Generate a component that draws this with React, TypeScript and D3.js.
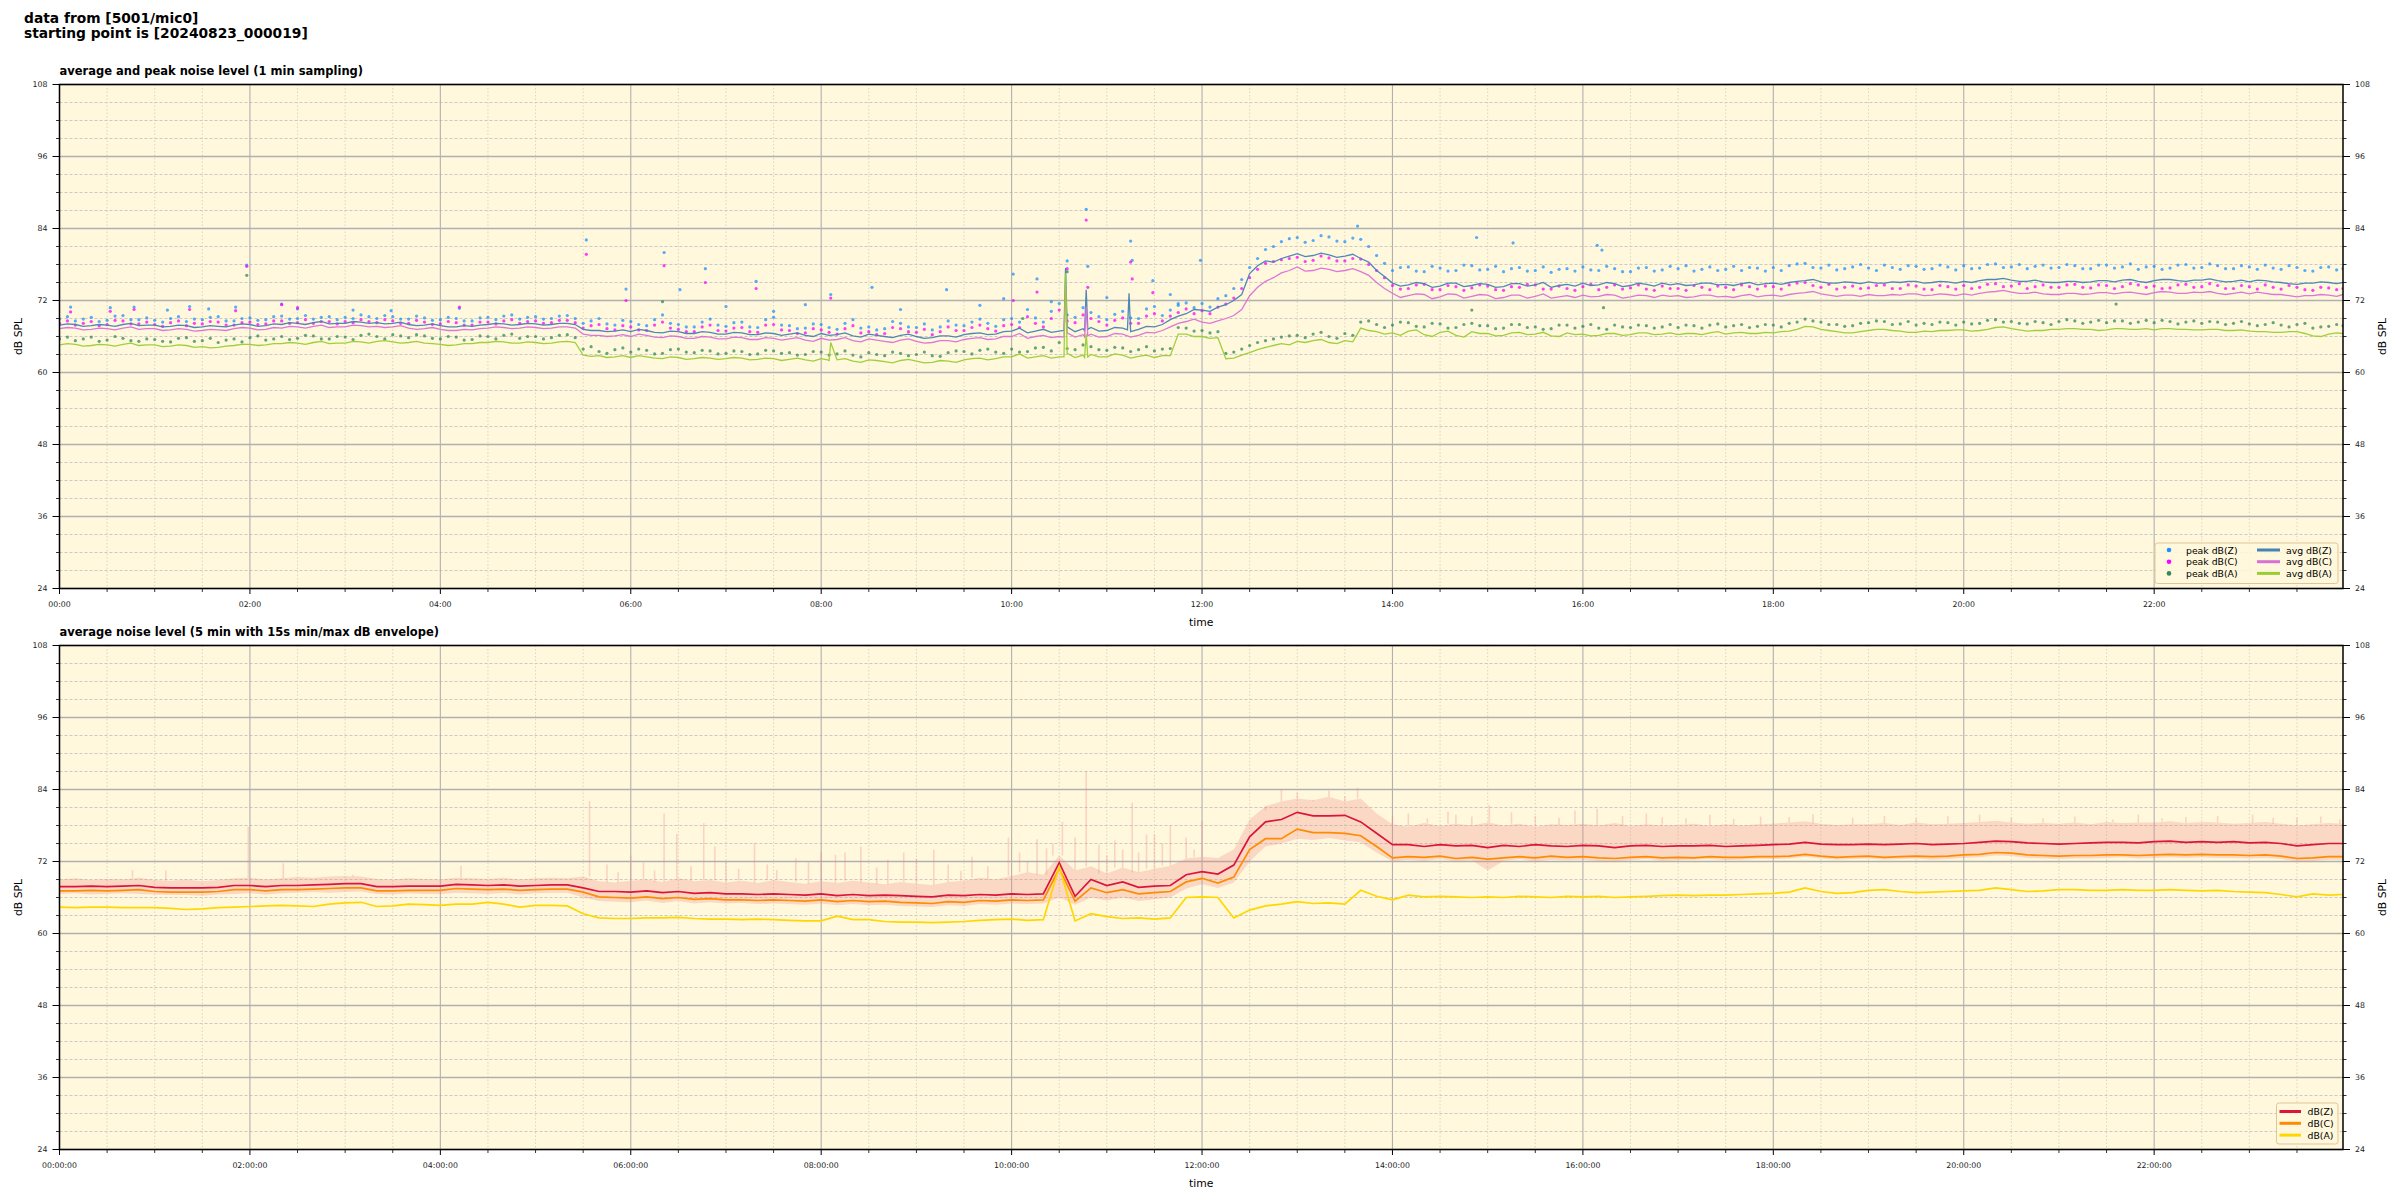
import React from "react";
import * as d3 from "d3";

const FONT = "'DejaVu Sans', 'Liberation Sans', sans-serif";

// ---------------- texts ----------------
const FIG_TITLE_LINES = ["data from [5001/mic0]", "starting point is [20240823_000019]"];
const TOP_TITLE = "average and peak noise level (1 min sampling)";
const BOT_TITLE = "average noise level (5 min with 15s min/max dB envelope)";
const X_LABEL = "time";
const Y_LABEL = "dB SPL";
const TOP_LEGEND_PEAK = ["peak dB(Z)", "peak dB(C)", "peak dB(A)"];
const TOP_LEGEND_AVG = ["avg dB(Z)", "avg dB(C)", "avg dB(A)"];
const BOT_LEGEND = ["dB(Z)", "dB(C)", "dB(A)"];

// ---------------- axes ----------------
const T_DOMAIN = [0, 1439]; // minutes since 00:00
const Y_DOMAIN = [24, 108];
const X_MAJOR = d3.range(0, 1440, 120);
const X_MINOR = d3.range(30, 1440, 30).filter((m) => m % 120 !== 0);
const Y_MAJOR = d3.range(24, 109, 12);
const Y_MINOR = d3.range(27, 108, 3).filter((v) => (v - 24) % 12 !== 0);

// sample times (minutes)
const SAMPLE_5 = [...d3.range(0, 1440, 5), 1439];
const SAMPLE_10 = [...d3.range(0, 1440, 10), 1439];

// ---------------- top panel: averages (read every 5 min) ----------------
const AVG_Z = [
  67.9, 68.1, 68.0, 67.7, 67.8, 68.0, 67.9, 67.7, 68.0, 68.2, 67.8, 67.9,
  67.9, 67.6, 67.7, 67.9, 67.8, 67.5, 67.6, 67.8, 67.7, 67.6, 67.9, 68.1,
  68.0, 67.7, 67.8, 68.1, 68.0, 68.3, 68.2, 68.0, 68.3, 68.5, 68.1, 68.2,
  68.2, 68.5, 68.4, 68.2, 68.3, 68.1, 68.2, 68.4, 68.0, 67.8, 67.9, 68.1,
  67.8, 67.6, 67.6, 67.8, 67.7, 67.9, 68.0, 68.2, 68.1, 67.9, 68.0, 68.2,
  68.1, 67.9, 68.0, 68.2, 68.2, 68.0, 67.2, 67.0, 67.0, 66.8, 66.9, 67.1,
  66.8, 67.2, 67.0, 66.7, 66.6, 66.9, 66.8, 66.5, 66.5, 66.8, 66.7, 66.4,
  66.4, 66.7, 66.6, 66.3, 66.3, 66.6, 66.5, 66.2, 66.4, 66.6, 66.2, 66.0,
  66.5, 66.2, 66.3, 66.6, 66.1, 65.9, 66.4, 66.2, 66.0, 65.8, 66.2, 66.4,
  66.0, 65.7, 65.8, 66.1, 66.1, 65.9, 66.3, 66.5, 66.6, 66.3, 66.4, 66.8,
  66.9, 67.4, 66.6, 66.9, 67.2, 66.7, 66.9, 67.6, 66.8, 67.3, 67.5, 66.9,
  67.0, 67.5, 67.4, 66.8, 67.2, 67.7, 67.6, 68.0, 68.8, 69.4, 69.8, 70.5,
  70.4, 70.2, 70.9, 71.3, 72.0, 73.0, 76.5, 77.8, 78.6, 78.4, 79.0, 79.4,
  79.8, 79.3, 79.5, 79.9, 79.6, 79.2, 79.4, 79.7, 79.0, 78.4, 77.0, 76.0,
  74.9, 74.4, 74.6, 75.0, 74.8, 74.2, 74.4, 74.9, 74.9, 74.3, 74.5, 74.8,
  74.7, 74.2, 74.3, 74.8, 74.8, 74.4, 74.6, 75.0, 74.2, 74.5, 74.7, 74.4,
  74.9, 74.5, 74.6, 75.0, 74.8, 74.3, 74.5, 74.9, 74.7, 74.4, 74.9, 74.6,
  74.8, 74.5, 74.6, 74.9, 74.9, 74.6, 74.7, 74.5, 74.8, 75.0, 74.6, 74.8,
  74.9, 74.7, 75.0, 75.2, 75.3, 75.5, 75.1, 74.9, 74.9, 75.1, 75.0, 74.8,
  75.1, 74.9, 74.9, 75.1, 75.0, 75.2, 75.2, 74.9, 75.0, 75.2, 75.1, 74.9,
  75.2, 75.0, 75.3, 75.5, 75.5, 75.7, 75.4, 75.2, 75.2, 75.4, 75.1, 75.0,
  75.0, 75.2, 75.2, 75.0, 75.1, 75.3, 75.3, 75.1, 75.4, 75.5, 75.2, 75.0,
  75.3, 75.5, 75.5, 75.3, 75.2, 75.4, 75.4, 75.6, 75.3, 75.1, 75.2, 75.4,
  75.1, 75.4, 75.3, 75.1, 75.0, 74.8, 74.7, 74.9, 74.9, 75.1, 75.0, 74.8, 75.0,
];
const AVG_C = [
  67.3, 67.5, 67.4, 67.1, 67.2, 67.4, 67.3, 67.1, 67.4, 67.6, 67.2, 67.3,
  67.3, 67.0, 67.1, 67.3, 67.2, 66.9, 67.0, 67.2, 67.1, 67.0, 67.3, 67.5,
  67.4, 67.1, 67.2, 67.5, 67.4, 67.7, 67.6, 67.4, 67.7, 67.9, 67.5, 67.6,
  67.6, 67.9, 67.8, 67.6, 67.7, 67.5, 67.6, 67.8, 67.4, 67.2, 67.3, 67.5,
  67.2, 67.0, 67.0, 67.2, 67.1, 67.3, 67.4, 67.6, 67.5, 67.3, 67.4, 67.6,
  67.5, 67.3, 67.4, 67.6, 67.6, 67.4, 66.4, 66.2, 66.2, 66.0, 66.1, 66.3,
  66.0, 66.4, 66.2, 65.9, 65.8, 66.1, 66.0, 65.7, 65.7, 66.0, 65.9, 65.6,
  65.6, 65.9, 65.8, 65.5, 65.5, 65.8, 65.7, 65.4, 65.6, 65.8, 65.4, 65.2,
  65.7, 65.4, 65.5, 65.8, 65.3, 65.1, 65.6, 65.4, 65.2, 65.0, 65.4, 65.6,
  65.2, 64.9, 65.0, 65.3, 65.3, 65.1, 65.5, 65.7, 65.8, 65.5, 65.6, 66.0,
  66.0, 66.5, 65.7, 66.0, 66.2, 65.8, 66.0, 66.6, 65.9, 66.3, 66.4, 65.9,
  66.0, 66.5, 66.4, 65.9, 66.2, 66.7, 66.6, 67.0, 67.6, 68.2, 68.5, 68.9,
  68.4, 68.2, 68.6, 69.0, 69.5, 70.5, 72.8, 74.2, 75.2, 75.8, 76.6, 77.0,
  77.6, 76.9, 77.0, 77.4, 77.2, 76.8, 77.0, 77.3, 76.8, 76.2, 75.0, 74.0,
  73.2, 72.5, 72.8, 73.1, 73.0, 72.3, 72.6, 73.1, 73.0, 72.4, 72.7, 73.0,
  72.9, 72.3, 72.5, 72.9, 72.9, 72.4, 72.7, 73.1, 72.4, 72.6, 72.8, 72.5,
  72.9, 72.6, 72.7, 73.0, 72.9, 72.4, 72.6, 72.9, 72.8, 72.5, 72.9, 72.7,
  72.8, 72.5, 72.6, 72.9, 72.9, 72.6, 72.7, 72.5, 72.8, 73.0, 72.6, 72.8,
  72.9, 72.7, 73.0, 73.2, 73.3, 73.5, 73.1, 72.9, 72.7, 72.9, 72.9, 72.7,
  73.0, 72.8, 72.8, 73.0, 72.9, 73.1, 73.1, 72.8, 72.9, 73.1, 73.0, 72.8,
  73.1, 72.9, 73.2, 73.4, 73.5, 73.7, 73.4, 73.2, 73.2, 73.4, 73.1, 73.0,
  73.0, 73.2, 73.2, 73.0, 73.1, 73.3, 73.3, 73.1, 73.3, 73.4, 73.2, 73.0,
  73.3, 73.5, 73.4, 73.2, 73.2, 73.4, 73.3, 73.5, 73.2, 73.0, 73.2, 73.4,
  73.1, 73.4, 73.2, 73.0, 73.0, 72.8, 72.6, 72.8, 72.8, 73.0, 72.9, 72.7, 73.0,
];
const AVG_A = [
  64.6, 64.8, 64.7, 64.4, 64.5, 64.7, 64.6, 64.4, 64.7, 64.9, 64.5, 64.6,
  64.6, 64.3, 64.4, 64.6, 64.5, 64.2, 64.3, 64.1, 64.2, 64.4, 64.5, 64.7,
  64.7, 64.5, 64.6, 64.8, 64.8, 65.0, 64.9, 64.7, 65.0, 65.2, 64.8, 64.9,
  64.9, 65.2, 65.1, 64.9, 65.2, 65.3, 65.1, 64.9, 65.0, 65.2, 64.9, 64.8,
  64.7, 64.5, 64.6, 64.8, 64.8, 65.0, 65.0, 65.2, 65.1, 64.9, 64.9, 65.1,
  65.0, 64.8, 64.9, 65.1, 65.2, 65.0, 62.9, 62.7, 62.8, 62.5, 62.6, 62.8,
  62.5, 62.8, 62.6, 62.4, 62.3, 62.6, 62.5, 62.2, 62.3, 62.5, 62.4, 62.2,
  62.3, 62.5, 62.4, 62.1, 62.2, 62.4, 62.3, 62.0, 62.2, 62.4, 62.1, 61.9,
  62.3, 62.0, 62.1, 62.3, 61.9, 61.7, 62.1, 62.0, 61.8, 61.6, 62.0, 62.2,
  61.9, 61.6, 61.7, 62.0, 61.9, 61.7, 62.1, 62.3, 62.4, 62.1, 62.3, 62.6,
  62.6, 63.1, 62.4, 62.6, 62.8, 62.4, 62.6, 63.2, 62.5, 62.9, 63.0, 62.6,
  62.6, 63.1, 62.9, 62.4, 62.7, 62.9, 62.5, 62.8, 62.8, 66.4, 66.4, 66.0,
  66.0, 65.7, 65.8, 62.3, 62.4, 62.9, 63.3, 63.8, 64.2, 64.5, 64.8, 64.6,
  65.2, 65.0, 65.3, 65.5, 65.0, 64.8, 65.3, 65.1, 67.4, 67.0, 66.8, 66.4,
  66.6, 66.2, 66.9, 67.1, 66.3, 66.0, 66.7, 66.9, 66.2, 65.9, 66.8, 66.5,
  66.5, 66.1, 66.2, 66.6, 66.7, 66.3, 66.4, 66.7, 66.1, 66.0, 66.6, 66.3,
  66.4, 66.1, 66.2, 66.5, 66.5, 66.2, 66.3, 66.6, 66.6, 66.3, 66.4, 66.6,
  66.3, 66.5, 66.5, 66.3, 66.6, 66.8, 66.4, 66.6, 66.7, 66.5, 66.5, 66.7,
  66.6, 66.8, 66.9, 67.2, 67.7, 67.6, 67.2, 67.0, 66.8, 66.6, 66.6, 66.8,
  67.0, 67.2, 67.2, 67.0, 66.9, 66.7, 66.7, 66.9, 66.8, 67.0, 67.0, 67.1,
  67.1, 66.9, 67.0, 67.2, 67.5, 67.6, 67.3, 67.1, 66.9, 67.0, 67.0, 67.2,
  67.2, 67.3, 67.3, 67.2, 67.2, 67.0, 67.1, 67.3, 67.3, 67.2, 67.2, 67.3,
  67.1, 67.3, 67.3, 67.2, 67.2, 67.1, 67.1, 67.2, 67.2, 67.0, 67.0, 67.1,
  66.9, 66.8, 66.8, 66.7, 66.7, 66.8, 66.8, 66.5, 66.1, 66.0, 66.4, 66.6, 66.5,
];
// narrow 1-min spikes of the averages (minute, dB)
const AVG_Z_SPIKE_MIN = [633, 634, 646, 647, 648, 673, 674];
const AVG_Z_SPIKE_VAL = [67.0, 77.4, 67.0, 73.8, 67.2, 67.1, 73.2];
const AVG_C_SPIKE_MIN = [633, 634, 646, 647, 648];
const AVG_C_SPIKE_VAL = [65.9, 74.6, 65.9, 71.0, 66.1];
const AVG_A_SPIKE_MIN = [484, 486, 633, 634, 646, 647, 648];
const AVG_A_SPIKE_VAL = [62.1, 65.0, 62.6, 76.5, 62.5, 66.5, 62.6];

// ---------------- top panel: peaks (read every 5 min) ----------------
const PEAK_Z = [
  68.9, 69.3, 68.6, 68.9, 69.2, 68.5, 68.7, 69.4, 69.5, 68.8, 68.8, 69.1,
  68.7, 68.4, 69.0, 69.3, 68.5, 68.9, 68.8, 69.2, 69.3, 68.6, 68.6, 69.0,
  69.1, 68.7, 68.8, 69.3, 69.4, 68.9, 69.0, 69.5, 68.9, 69.2, 69.3, 68.8,
  69.2, 69.0, 69.6, 69.3, 69.0, 69.5, 69.3, 68.9, 68.9, 69.4, 69.1, 68.7,
  68.8, 69.2, 69.0, 68.6, 68.6, 69.1, 69.2, 68.8, 69.4, 69.6, 68.9, 69.2,
  69.3, 68.9, 69.0, 69.4, 69.5, 69.0, 68.2, 68.6, 69.0, 68.1, 67.9, 68.7,
  68.5, 68.0, 67.8, 68.8, 69.6, 68.2, 68.0, 67.6, 67.6, 68.4, 68.9, 67.9,
  67.7, 68.3, 68.4, 67.6, 67.5, 68.8, 69.2, 67.9, 67.8, 67.3, 67.4, 68.1,
  68.0, 67.5, 67.2, 68.2, 68.8, 67.4, 67.6, 67.1, 67.3, 68.5, 68.2, 67.6,
  67.5, 68.1, 67.1, 67.6, 68.6, 67.9, 67.8, 68.4, 68.9, 68.2, 67.7, 68.8,
  69.0, 68.4, 70.5, 69.1, 68.4, 70.2, 71.5, 69.6, 69.2, 70.8, 70.0, 69.3,
  68.8, 69.7, 70.2, 69.1, 69.0, 70.6, 71.0, 69.5, 70.4, 71.2, 71.6, 70.8,
  71.5, 70.9, 72.3, 72.8, 74.0, 75.5, 77.5, 79.0, 80.5, 81.0, 81.8, 82.3,
  82.5, 81.7, 82.0, 82.8, 82.6, 81.9, 81.8, 82.4, 82.2, 81.0, 79.5, 78.2,
  77.0, 77.5, 77.6, 76.9, 76.8, 77.7, 77.4, 76.9, 77.0, 77.9, 77.8, 77.1,
  77.2, 77.7, 76.8, 77.3, 77.5, 76.9, 77.0, 77.6, 76.7, 77.2, 77.3, 76.9,
  77.6, 77.1, 77.0, 77.7, 77.3, 76.8, 76.8, 77.4, 77.5, 76.9, 77.1, 77.7,
  77.3, 77.8, 76.9, 77.2, 77.6, 77.0, 77.2, 77.7, 77.0, 77.5, 77.4, 76.9,
  77.5, 77.0, 77.8, 78.1, 78.2, 77.5, 77.4, 77.9, 77.1, 77.3, 77.6, 78.0,
  77.4, 77.0, 77.9, 77.5, 77.2, 77.8, 77.7, 77.2, 77.3, 77.9, 77.6, 77.1,
  77.8, 77.3, 77.4, 78.0, 78.1, 77.5, 77.6, 78.0, 77.3, 77.7, 77.9, 77.4,
  77.5, 78.0, 77.8, 77.3, 77.3, 77.9, 77.9, 77.4, 77.6, 78.1, 77.2, 77.6,
  77.7, 77.2, 77.4, 77.9, 78.0, 77.4, 77.5, 78.1, 77.8, 77.3, 77.3, 77.8,
  77.6, 77.2, 77.9, 77.4, 77.2, 77.8, 77.5, 77.0, 76.9, 77.5, 77.6, 77.1, 77.3,
];
const PEAK_C = [
  68.2, 68.6, 67.9, 68.2, 68.5, 67.8, 68.0, 68.7, 68.6, 68.1, 68.1, 68.4,
  68.0, 67.7, 68.3, 68.6, 67.8, 68.2, 68.1, 68.5, 68.4, 67.9, 67.9, 68.3,
  68.4, 68.0, 68.1, 68.6, 68.6, 68.2, 68.3, 68.8, 68.2, 68.5, 68.5, 68.1,
  68.5, 68.3, 68.8, 68.5, 68.3, 68.8, 68.6, 68.2, 68.2, 68.7, 68.4, 68.0,
  68.1, 68.5, 68.3, 67.9, 67.9, 68.4, 68.4, 68.1, 68.6, 68.8, 68.2, 68.5,
  68.6, 68.2, 68.3, 68.7, 68.7, 68.3, 67.4, 67.8, 68.0, 67.3, 67.1, 67.8,
  67.6, 67.1, 67.0, 67.9, 68.4, 67.4, 67.2, 66.8, 66.8, 67.6, 67.9, 67.0,
  66.9, 67.4, 67.5, 66.8, 66.7, 67.9, 68.0, 67.1, 67.0, 66.5, 66.6, 67.3,
  67.1, 66.7, 66.4, 67.3, 67.8, 66.6, 66.8, 66.3, 66.5, 67.5, 67.3, 66.8,
  66.7, 67.2, 66.3, 66.8, 67.6, 67.0, 67.0, 67.5, 67.9, 67.3, 66.9, 67.8,
  68.0, 67.5, 69.3, 68.2, 67.6, 69.0, 70.4, 68.6, 68.3, 69.6, 69.0, 68.5,
  67.9, 68.7, 69.1, 68.2, 68.2, 69.4, 69.8, 68.6, 69.4, 70.0, 70.6, 69.8,
  70.3, 69.8, 70.9, 71.4, 72.4, 74.0, 75.8, 77.2, 78.2, 78.5, 78.8, 79.0,
  79.2, 78.5, 78.7, 79.4, 79.1, 78.6, 78.6, 79.0, 78.9, 78.0, 77.0, 75.8,
  74.5, 73.9, 74.0, 74.6, 74.7, 73.8, 73.8, 74.5, 74.3, 73.7, 74.1, 74.6,
  74.4, 73.8, 73.7, 74.3, 74.2, 74.7, 74.6, 73.9, 73.9, 74.4, 74.0, 73.7,
  74.3, 74.7, 73.8, 74.2, 74.6, 73.9, 74.1, 74.6, 73.9, 73.7, 74.4, 74.0,
  74.0, 73.7, 74.5, 74.2, 73.8, 74.4, 74.2, 73.8, 74.6, 74.3, 73.9, 74.4,
  74.3, 73.9, 74.6, 74.9, 75.0, 74.5, 74.2, 74.7, 73.9, 74.2, 74.4, 74.0,
  74.1, 74.5, 74.6, 74.0, 74.0, 74.6, 74.4, 73.9, 73.8, 74.5, 74.3, 73.9,
  74.5, 74.0, 74.2, 74.7, 74.8, 74.3, 74.4, 74.8, 74.0, 74.3, 74.6, 74.2,
  74.2, 74.6, 74.7, 74.2, 74.1, 74.6, 74.5, 74.0, 74.3, 74.8, 74.6, 74.2,
  74.4, 74.0, 74.1, 74.6, 74.7, 74.2, 74.3, 74.8, 74.5, 74.0, 74.0, 74.5,
  74.3, 73.9, 74.6, 74.2, 73.9, 74.5, 74.2, 73.8, 73.7, 74.2, 74.1, 73.8, 74.0,
];
const PEAK_A = [
  65.6, 65.9, 65.3, 65.6, 65.9, 65.2, 65.4, 66.0, 65.7, 65.3, 65.2, 65.6,
  65.5, 65.2, 65.1, 65.7, 65.8, 65.2, 65.3, 65.7, 65.0, 65.4, 65.6, 65.1,
  65.8, 66.1, 65.4, 65.6, 66.0, 65.5, 65.7, 66.2, 66.1, 65.6, 65.6, 66.0,
  65.9, 65.5, 66.2, 66.4, 66.0, 65.6, 66.3, 66.1, 65.8, 66.3, 66.1, 65.7,
  65.6, 66.0, 65.9, 65.4, 65.5, 66.1, 66.0, 65.6, 66.2, 66.4, 65.7, 66.0,
  66.0, 65.6, 65.8, 66.2, 66.3, 65.8, 63.9, 64.3, 63.5, 63.2, 63.8, 64.1,
  63.4, 63.9, 63.7, 63.1, 63.2, 63.8, 63.9, 63.4, 63.3, 63.7, 63.6, 63.1,
  63.2, 63.6, 63.5, 63.0, 63.1, 63.7, 63.6, 63.2, 63.3, 62.9, 63.0, 63.5,
  63.4, 62.9, 63.1, 63.6, 62.9, 62.6, 63.3, 63.0, 62.8, 63.4, 63.2, 62.8,
  63.0, 63.4, 62.8, 62.7, 63.3, 63.6, 63.5, 63.1, 63.7, 63.9, 63.4, 63.2,
  63.9, 63.4, 63.5, 64.1, 64.2, 63.6, 65.0, 64.0, 63.8, 64.6, 64.3, 63.8,
  63.7, 64.2, 64.1, 63.5, 63.8, 64.3, 63.6, 63.9, 64.0, 67.5, 67.4, 66.9,
  67.0, 66.6, 66.8, 63.2, 63.4, 63.9, 64.5, 65.0, 65.3, 65.6, 65.9, 66.1,
  66.2, 65.8, 66.4, 66.7, 66.0, 65.7, 66.5, 66.2, 68.4, 68.6, 68.0, 67.5,
  67.9, 68.4, 68.3, 67.7, 67.6, 68.2, 68.1, 67.4, 67.5, 68.0, 68.2, 67.8,
  67.8, 67.3, 67.4, 68.0, 68.0, 67.5, 67.6, 67.2, 67.3, 67.9, 67.9, 67.4,
  67.7, 68.0, 67.4, 67.2, 67.9, 67.6, 67.5, 67.9, 67.8, 67.4, 67.6, 68.0,
  67.5, 67.9, 67.8, 67.4, 67.9, 68.1, 67.6, 67.8, 68.0, 67.5, 67.7, 68.0,
  67.9, 67.6, 68.2, 68.4, 68.9, 68.6, 68.4, 68.0, 68.0, 67.7, 67.8, 68.2,
  68.3, 68.6, 68.5, 68.0, 68.1, 68.5, 67.9, 68.2, 68.0, 68.4, 68.3, 67.9,
  68.4, 68.1, 68.2, 68.7, 68.8, 68.4, 68.5, 68.2, 68.1, 68.5, 68.3, 68.0,
  68.5, 68.8, 68.6, 68.2, 68.4, 68.7, 68.3, 68.6, 68.6, 68.2, 68.4, 68.7,
  68.3, 68.7, 68.5, 68.1, 68.4, 68.6, 68.2, 68.5, 68.4, 68.0, 68.2, 68.5,
  68.1, 67.8, 68.0, 68.3, 67.9, 67.6, 68.0, 68.2, 67.4, 67.6, 67.7, 68.0, 67.8,
];
// isolated peak readings (minute, dB)
const PEAK_Z_EXTRA_MIN = [7, 32, 47, 68, 82, 94, 111, 118, 140, 150, 185, 209, 252, 332, 357, 381, 391, 407, 420, 439, 450, 470, 486, 512, 530, 559, 580, 595, 601, 616, 625, 635, 647, 648, 660, 675, 676, 689, 700, 705, 719, 818, 893, 916, 969, 972];
const PEAK_Z_EXTRA_VAL = [70.9, 70.8, 70.9, 70.4, 71.0, 70.6, 70.9, 77.9, 71.4, 70.6, 70.4, 70.3, 70.7, 82.1, 73.9, 80.0, 73.8, 77.3, 71.0, 75.2, 70.2, 71.3, 73.0, 74.2, 70.5, 73.8, 71.2, 72.3, 76.4, 75.6, 71.8, 78.6, 87.2, 77.7, 72.5, 81.9, 78.7, 75.3, 73.0, 71.5, 78.7, 84.4, 82.5, 81.6, 81.2, 80.4];
const PEAK_C_EXTRA_MIN = [7, 32, 47, 82, 111, 118, 140, 150, 252, 332, 357, 381, 407, 439, 486, 601, 616, 635, 647, 648, 675, 676, 689];
const PEAK_C_EXTRA_VAL = [70.1, 70.2, 70.5, 70.5, 70.3, 77.7, 71.3, 70.8, 70.9, 79.7, 72.0, 77.8, 75.0, 74.0, 72.4, 72.0, 73.4, 77.3, 85.4, 74.2, 78.4, 75.6, 73.3];
const PEAK_A_EXTRA_MIN = [118, 380, 607, 635, 890, 973, 1296];
const PEAK_A_EXTRA_VAL = [76.2, 71.8, 69.0, 76.8, 70.4, 70.8, 71.4];

// ---------------- bottom panel: 5-min averages (read every 10 min) ----------------
const BOT_Z = [
  67.8, 67.8, 67.9, 67.8, 67.9, 68.0,
  67.7, 67.6, 67.6, 67.6, 67.7, 68.0,
  68.0, 67.8, 68.0, 68.0, 68.1, 68.2,
  68.3, 68.3, 67.8, 67.8, 67.9, 67.9,
  67.9, 68.2, 68.1, 68.0, 68.1, 67.9,
  68.0, 68.1, 68.1, 67.6, 67.0, 67.0,
  66.9, 67.1, 66.8, 67.0, 66.7, 66.8,
  66.6, 66.6, 66.5, 66.6, 66.5, 66.4,
  66.6, 66.3, 66.5, 66.3, 66.4, 66.3,
  66.2, 66.1, 66.4, 66.3, 66.5, 66.4,
  66.6, 66.5, 66.6, 71.8, 66.2, 69.0,
  68.0, 68.6, 67.7, 67.9, 68.0, 69.8,
  70.3, 69.9, 71.4, 76.1, 78.6, 79.0,
  80.2, 79.6, 79.6, 79.7, 78.6, 76.7,
  74.8, 74.8, 74.5, 74.8, 74.6, 74.7,
  74.3, 74.7, 74.5, 74.8, 74.6, 74.5,
  74.7, 74.6, 74.3, 74.6, 74.7, 74.5,
  74.6, 74.6, 74.7, 74.5, 74.6, 74.7,
  74.8, 74.9, 75.2, 74.9, 74.8, 74.8,
  74.9, 74.8, 74.9, 75.0, 74.8, 74.9,
  75.0, 75.2, 75.4, 75.3, 75.1, 75.0,
  74.9, 75.0, 75.1, 75.2, 75.2, 75.1,
  75.3, 75.4, 75.2, 75.3, 75.2, 75.3,
  75.1, 75.2, 75.0, 74.6, 74.8, 75.0, 75.0,
];
const BOT_C = [
  67.1, 67.1, 67.2, 67.1, 67.2, 67.3,
  67.0, 66.9, 66.9, 66.9, 67.0, 67.3,
  67.3, 67.1, 67.3, 67.3, 67.4, 67.5,
  67.6, 67.6, 67.1, 67.1, 67.2, 67.2,
  67.2, 67.5, 67.4, 67.3, 67.4, 67.2,
  67.3, 67.4, 67.4, 66.9, 66.1, 66.0,
  65.9, 66.1, 65.8, 66.0, 65.7, 65.8,
  65.6, 65.6, 65.5, 65.6, 65.5, 65.4,
  65.6, 65.3, 65.5, 65.3, 65.4, 65.2,
  65.1, 65.0, 65.3, 65.2, 65.5, 65.4,
  65.6, 65.5, 65.6, 70.8, 65.4, 67.6,
  66.8, 67.3, 66.6, 66.8, 67.0, 68.6,
  69.2, 68.4, 69.4, 74.0, 75.8, 75.8,
  77.4, 76.8, 76.8, 76.7, 76.3, 74.5,
  72.6, 72.8, 72.7, 72.9, 72.5, 72.7,
  72.4, 72.6, 72.8, 72.6, 72.9, 72.7,
  72.8, 72.6, 72.5, 72.7, 72.8, 72.6,
  72.7, 72.6, 72.8, 72.7, 72.7, 72.8,
  72.8, 72.9, 73.2, 72.9, 72.7, 72.8,
  72.9, 72.7, 72.8, 72.9, 72.8, 72.9,
  73.1, 73.2, 73.5, 73.4, 73.1, 73.0,
  72.9, 73.0, 73.0, 73.1, 73.1, 73.0,
  73.1, 73.2, 73.1, 73.2, 73.1, 73.1,
  73.0, 73.1, 72.9, 72.5, 72.6, 72.8, 72.8,
];
const BOT_A = [
  64.4, 64.3, 64.4, 64.4, 64.3, 64.3,
  64.3, 64.2, 64.0, 64.1, 64.3, 64.4,
  64.5, 64.6, 64.7, 64.6, 64.5, 64.9,
  65.1, 65.2, 64.5, 64.6, 64.9, 64.8,
  64.7, 64.9, 64.9, 65.2, 64.9, 64.4,
  64.7, 64.7, 64.6, 63.3, 62.6, 62.5,
  62.5, 62.6, 62.6, 62.7, 62.5, 62.4,
  62.4, 62.3, 62.4, 62.3, 62.2, 62.1,
  62.1, 62.9, 62.3, 62.3, 62.0, 61.9,
  61.9, 61.8, 61.9, 62.0, 62.2, 62.3,
  62.4, 62.2, 62.3, 71.1, 62.1, 63.3,
  62.8, 62.5, 62.6, 62.4, 62.6, 66.0,
  66.1, 66.0, 62.6, 63.9, 64.6, 64.9,
  65.3, 65.0, 65.1, 64.9, 67.2, 66.2,
  65.6, 66.4, 66.1, 66.2, 66.1, 66.0,
  66.1, 66.0, 66.2, 66.1, 66.0, 66.2,
  66.1, 66.2, 66.0, 66.1, 66.2, 66.3,
  66.4, 66.3, 66.4, 66.4, 66.5, 66.6,
  66.7, 66.9, 67.6, 67.0, 66.7, 66.8,
  67.2, 67.3, 67.0, 66.8, 66.9, 67.0,
  67.1, 67.2, 67.6, 67.3, 67.0, 67.1,
  67.3, 67.3, 67.2, 67.2, 67.3, 67.2,
  67.2, 67.3, 67.2, 67.1, 67.2, 67.0,
  66.9, 66.8, 66.5, 66.1, 66.6, 66.4, 66.5,
];
// 15 s min / max envelope (read every 10 min)
const ENV_MAX = [
  69.0, 69.2, 68.9, 69.1, 69.0, 69.3,
  68.9, 68.8, 69.0, 68.7, 68.9, 69.2,
  69.3, 69.0, 69.2, 69.4, 69.3, 69.5,
  69.6, 69.5, 69.1, 69.0, 69.2, 69.1,
  69.0, 69.3, 69.2, 69.1, 69.3, 69.0,
  69.2, 69.3, 69.2, 69.5, 68.7, 68.5,
  68.8, 69.0, 68.6, 69.2, 68.7, 68.9,
  68.5, 68.8, 68.4, 68.9, 68.6, 68.3,
  68.7, 68.4, 68.8, 68.5, 68.2, 68.6,
  68.3, 68.1, 68.6, 68.8, 69.3, 69.0,
  69.6, 70.2, 69.8, 73.0, 70.5, 71.2,
  70.0, 71.0, 70.2, 70.8, 71.3, 72.5,
  72.8, 72.6, 74.0, 79.0, 81.2, 82.0,
  82.5, 82.2, 82.8, 82.0, 82.5, 80.0,
  78.2, 77.8, 78.4, 77.9, 78.3, 78.0,
  78.5, 78.0, 78.3, 77.8, 78.2, 78.1,
  78.3, 78.0, 78.4, 77.9, 78.2, 78.0,
  78.1, 78.3, 77.9, 78.2, 78.0, 78.2,
  78.3, 78.5, 78.7, 78.3, 78.1, 78.2,
  78.2, 78.4, 78.1, 78.5, 78.2, 78.3,
  78.4, 78.6, 78.8, 78.5, 78.3, 78.4,
  78.3, 78.5, 78.2, 78.6, 78.4, 78.5,
  78.5, 78.7, 78.4, 78.6, 78.5, 78.3,
  78.4, 78.6, 78.3, 78.0, 78.2, 78.4, 78.3,
];
const ENV_MIN = [
  66.6, 66.7, 66.5, 66.6, 66.7, 66.6,
  66.5, 66.4, 66.4, 66.3, 66.5, 66.6,
  66.7, 66.5, 66.7, 66.8, 66.9, 66.8,
  66.9, 67.0, 66.6, 66.5, 66.7, 66.6,
  66.6, 66.8, 66.7, 66.6, 66.8, 66.5,
  66.7, 66.8, 66.8, 66.0, 65.4, 65.3,
  65.2, 65.5, 65.1, 65.4, 65.0, 65.2,
  65.0, 65.1, 64.9, 65.0, 64.9, 64.8,
  65.0, 64.7, 64.9, 64.7, 64.8, 64.6,
  64.5, 64.4, 64.7, 64.6, 64.9, 64.8,
  65.0, 64.9, 65.0, 66.0, 64.8, 66.0,
  65.5, 66.0, 65.4, 65.7, 66.0, 67.5,
  68.2, 67.6, 68.5, 72.0, 74.5, 75.0,
  75.8, 75.6, 75.9, 75.5, 75.2, 73.5,
  72.0, 72.3, 72.1, 72.4, 72.0, 72.2,
  70.5, 72.1, 72.4, 72.0, 72.3, 72.2,
  72.3, 72.1, 72.0, 72.2, 72.4, 72.1,
  72.2, 72.3, 72.4, 72.2, 72.3, 72.4,
  72.4, 72.5, 72.8, 72.5, 72.3, 72.4,
  72.5, 72.3, 72.4, 72.5, 72.3, 72.4,
  72.6, 72.7, 73.0, 72.9, 72.6, 72.5,
  72.4, 72.5, 72.5, 72.6, 72.7, 72.5,
  72.6, 72.7, 72.6, 72.7, 72.6, 72.6,
  72.5, 72.6, 72.4, 72.0, 72.1, 72.3, 72.3,
];
// short upward excursions of the envelope maximum (minute, dB)
const ENV_SPIKE_MIN = [
  46, 67, 119, 141, 185, 253, 334, 345, 352, 360, 368, 375, 381, 389, 398, 406, 413, 420, 428, 438, 446, 452,
  464, 472, 480, 489, 495, 505, 515, 522, 532, 540, 551, 560, 568, 575, 585, 598, 605, 610, 616, 622, 626, 632,
  640, 647, 655, 660, 665, 670, 676, 680, 685, 690, 695, 700, 710, 715, 720, 760, 770, 780, 790, 800, 810, 818,
  840, 850, 862, 875, 880, 890, 901, 915, 930, 945, 955, 969, 985, 1000, 1010, 1025, 1040, 1055, 1072, 1090,
  1105, 1130, 1150, 1170, 1190, 1210, 1230, 1250, 1270, 1294, 1310, 1325, 1340, 1360, 1382, 1395, 1410, 1425, 1437,
];
const ENV_SPIKE_VAL = [
  70.6, 70.5, 77.8, 71.7, 69.8, 71.3, 82.1, 71.5, 70.2, 73.0, 71.8, 70.5, 80.0, 76.6, 71.2, 78.4, 74.5, 72.0, 70.8, 75.1, 71.5, 70.6,
  72.5, 71.9, 73.5, 73.1, 73.5, 74.5, 71.0, 72.3, 73.5, 72.5, 74.0, 71.5, 70.4, 72.8, 71.2, 76.0, 73.5, 72.0, 75.7, 74.2, 75.0, 78.6,
  76.0, 87.1, 74.8, 73.0, 75.5, 74.0, 81.8, 73.5, 76.5, 76.5, 75.0, 78.0, 76.0, 74.0, 78.8, 80.5, 84.0, 83.5, 82.0, 83.8, 82.9, 84.3,
  79.5, 80.0, 79.2, 80.3, 79.8, 79.5, 81.4, 80.2, 79.6, 79.3, 80.5, 80.8, 79.6, 80.0, 79.4, 79.2, 79.8, 79.1, 79.5, 79.4,
  79.9, 79.3, 79.6, 79.2, 79.6, 79.8, 79.3, 79.2, 79.5, 79.0, 79.8, 79.2, 79.4, 79.6, 79.8, 79.3, 79.3, 79.5, 79.0,
];

// ---------------- colours ----------------
const PEAK_COLORS = ["#1e90ff", "#ff00ff", "#2e8b57"];
const AVG_COLORS = ["#4682b4", "#da70d6", "#9acd32"];
const BOT_COLORS = ["#dc143c", "#ff8c00", "#ffd700"];
const BG = "#fff8dc";
const ENV_FILL = "#f08080";

// ---------------- geometry ----------------
const X0 = 59.5;
const X1 = 2343;
const TOP_Y0 = 84.5;
const TOP_Y1 = 588.5;
const BOT_Y0 = 645.5;
const BOT_Y1 = 1149.5;

type P = [number, number];

function toPoints(times: number[], vals: number[], exMin: number[] = [], exVal: number[] = []): P[] {
  const n = Math.min(vals.length, times.length);
  const a: P[] = [];
  for (let i = 0; i < n; i++) a.push([times[i], vals[i]]);
  exMin.forEach((m, i) => a.push([m, exVal[i]]));
  return a.sort((p, q) => p[0] - q[0]);
}

function fmtHM(m: number) {
  const h = Math.floor(m / 60);
  const mm = m % 60;
  return `${String(h).padStart(2, "0")}:${String(mm).padStart(2, "0")}`;
}
function fmtHMS(m: number) {
  return fmtHM(m) + ":00";
}

function Frame({
  y0,
  y1,
  x,
  y,
  fmt,
  title,
  clipId,
  children,
}: {
  y0: number;
  y1: number;
  x: d3.ScaleLinear<number, number>;
  y: d3.ScaleLinear<number, number>;
  fmt: (m: number) => string;
  title: string;
  clipId: string;
  children?: React.ReactNode;
}) {
  const midY = (y0 + y1) / 2;
  return (
    <g>
      <defs>
        <clipPath id={clipId}>
          <rect x={X0} y={y0} width={X1 - X0} height={y1 - y0} />
        </clipPath>
      </defs>
      <rect x={X0} y={y0} width={X1 - X0} height={y1 - y0} fill={BG} />
      {Y_MINOR.map((v) => (
        <line key={"hy" + v} x1={X0} x2={X1} y1={y(v)} y2={y(v)} stroke="#bdbdbd" strokeWidth={0.8} strokeDasharray="3,2" />
      ))}
      {X_MINOR.map((m) => (
        <line key={"vx" + m} x1={x(m)} x2={x(m)} y1={y0} y2={y1} stroke="#d2cdbf" strokeWidth={0.8} strokeDasharray="1.5,2" />
      ))}
      {Y_MAJOR.map((v) => (
        <line key={"Hy" + v} x1={X0} x2={X1} y1={y(v)} y2={y(v)} stroke="#b0b0b0" strokeWidth={1.6} />
      ))}
      {X_MAJOR.map((m) => (
        <line key={"Vx" + m} x1={x(m)} x2={x(m)} y1={y0} y2={y1} stroke="#b0b0b0" strokeWidth={1.1} />
      ))}
      <g clipPath={`url(#${clipId})`}>{children}</g>
      <rect x={X0} y={y0} width={X1 - X0} height={y1 - y0} fill="none" stroke="#000" strokeWidth={1.5} />
      {Y_MAJOR.map((v) => (
        <g key={"ty" + v}>
          <line x1={X0 - 7} x2={X0} y1={y(v)} y2={y(v)} stroke="#000" strokeWidth={1} />
          <line x1={X1} x2={X1 + 7} y1={y(v)} y2={y(v)} stroke="#000" strokeWidth={1} />
          <text x={X0 - 12} y={y(v)} textAnchor="end" dominantBaseline="central" fontSize={7.8} fill="#222">
            {v}
          </text>
          <text x={X1 + 12} y={y(v)} textAnchor="start" dominantBaseline="central" fontSize={7.8} fill="#222">
            {v}
          </text>
        </g>
      ))}
      {Y_MINOR.map((v) => (
        <g key={"my" + v}>
          <line x1={X0 - 3.5} x2={X0} y1={y(v)} y2={y(v)} stroke="#000" strokeWidth={0.8} />
          <line x1={X1} x2={X1 + 3.5} y1={y(v)} y2={y(v)} stroke="#000" strokeWidth={0.8} />
        </g>
      ))}
      {X_MAJOR.map((m) => (
        <g key={"tx" + m}>
          <line x1={x(m)} x2={x(m)} y1={y1} y2={y1 + 5.5} stroke="#000" strokeWidth={1} />
          <text x={x(m)} y={y1 + 18.5} textAnchor="middle" fontSize={7.8} fill="#222">
            {fmt(m)}
          </text>
        </g>
      ))}
      {X_MINOR.map((m) => (
        <line key={"mx" + m} x1={x(m)} x2={x(m)} y1={y1} y2={y1 + 3.5} stroke="#000" strokeWidth={0.8} />
      ))}
      <text x={X0} y={y0 - 10} fontSize={11.5} fontWeight="bold" fill="#000">
        {title}
      </text>
      <text x={(X0 + X1) / 2} y={y1 + 37} textAnchor="middle" fontSize={10.8} fill="#000">
        {X_LABEL}
      </text>
      <text transform={`translate(22,${midY}) rotate(-90)`} textAnchor="middle" fontSize={10.8} fill="#000">
        {Y_LABEL}
      </text>
      <text transform={`translate(2386,${midY}) rotate(-90)`} textAnchor="middle" fontSize={10.8} fill="#000">
        {Y_LABEL}
      </text>
    </g>
  );
}

export default function App() {
  const x = d3.scaleLinear().domain(T_DOMAIN).range([X0, X1]);
  const yT = d3.scaleLinear().domain(Y_DOMAIN).range([TOP_Y1, TOP_Y0]);
  const yB = d3.scaleLinear().domain(Y_DOMAIN).range([BOT_Y1, BOT_Y0]);

  const lineT = d3.line<P>().x((d) => x(d[0])).y((d) => yT(d[1]));
  const lineB = d3.line<P>().x((d) => x(d[0])).y((d) => yB(d[1]));

  const peaks = [
    toPoints(SAMPLE_5, PEAK_Z, PEAK_Z_EXTRA_MIN, PEAK_Z_EXTRA_VAL),
    toPoints(SAMPLE_5, PEAK_C, PEAK_C_EXTRA_MIN, PEAK_C_EXTRA_VAL),
    toPoints(SAMPLE_5, PEAK_A, PEAK_A_EXTRA_MIN, PEAK_A_EXTRA_VAL),
  ];
  const avgs = [
    toPoints(SAMPLE_5, AVG_Z, AVG_Z_SPIKE_MIN, AVG_Z_SPIKE_VAL),
    toPoints(SAMPLE_5, AVG_C, AVG_C_SPIKE_MIN, AVG_C_SPIKE_VAL),
    toPoints(SAMPLE_5, AVG_A, AVG_A_SPIKE_MIN, AVG_A_SPIKE_VAL),
  ];
  const bots = [toPoints(SAMPLE_10, BOT_Z), toPoints(SAMPLE_10, BOT_C), toPoints(SAMPLE_10, BOT_A)];

  const envData = SAMPLE_10.map((m, i) => ({ m, lo: ENV_MIN[i], hi: ENV_MAX[i] })).filter(
    (d) => d.lo != null && d.hi != null
  );
  const envArea = d3
    .area<{ m: number; lo: number; hi: number }>()
    .x((d) => x(d.m))
    .y0((d) => yB(d.lo))
    .y1((d) => yB(d.hi));

  return (
    <svg
      width={2400}
      height={1200}
      style={{ position: "absolute", left: 0, top: 0, background: "#fff" }}
      fontFamily={FONT}
    >
      <rect width={2400} height={1200} fill="#fff" />
      <text x={24} y={22.5} fontSize={13.8} fontWeight="bold" fill="#000">
        {FIG_TITLE_LINES[0]}
      </text>
      <text x={24} y={38} fontSize={13.8} fontWeight="bold" fill="#000">
        {FIG_TITLE_LINES[1]}
      </text>

      <Frame y0={TOP_Y0} y1={TOP_Y1} x={x} y={yT} fmt={fmtHM} title={TOP_TITLE} clipId="clipTop">
        {peaks.map((pts, k) => (
          <g key={"pk" + k} fill={PEAK_COLORS[k]} fillOpacity={0.75}>
            {pts.map((d, i) => (
              <circle key={i} cx={x(d[0])} cy={yT(d[1])} r={1.6} />
            ))}
          </g>
        ))}
        {avgs.map((pts, k) => (
          <path key={"av" + k} d={lineT(pts) || ""} fill="none" stroke={AVG_COLORS[k]} strokeWidth={1.3} strokeOpacity={0.95} />
        ))}
      </Frame>

      <g fontSize={9.3} fill="#000">
        <rect x={2155} y={543} width={183} height={40.5} rx={2.5} fill={BG} fillOpacity={0.85} stroke="#e3c497" strokeWidth={1} />
        {TOP_LEGEND_PEAK.map((t, i) => (
          <g key={"lp" + i}>
            <circle cx={2169} cy={550 + i * 11.7} r={2.3} fill={PEAK_COLORS[i]} />
            <text x={2186} y={550 + i * 11.7} dominantBaseline="central">
              {t}
            </text>
          </g>
        ))}
        {TOP_LEGEND_AVG.map((t, i) => (
          <g key={"la" + i}>
            <line x1={2257} x2={2280} y1={550 + i * 11.7} y2={550 + i * 11.7} stroke={AVG_COLORS[i]} strokeWidth={3} />
            <text x={2286} y={550 + i * 11.7} dominantBaseline="central">
              {t}
            </text>
          </g>
        ))}
      </g>

      <Frame y0={BOT_Y0} y1={BOT_Y1} x={x} y={yB} fmt={fmtHMS} title={BOT_TITLE} clipId="clipBot">
        <path d={envArea(envData) || ""} fill={ENV_FILL} fillOpacity={0.27} stroke="none" />
        {ENV_SPIKE_MIN.map((m, i) => {
          const base = ENV_MAX[Math.min(ENV_MAX.length - 1, Math.round(m / 10))];
          return (
            <line
              key={"es" + i}
              x1={x(m)}
              x2={x(m)}
              y1={yB(base)}
              y2={yB(ENV_SPIKE_VAL[i])}
              stroke={ENV_FILL}
              strokeOpacity={0.3}
              strokeWidth={1.6}
            />
          );
        })}
        {bots.map((pts, k) => (
          <path key={"bl" + k} d={lineB(pts) || ""} fill="none" stroke={BOT_COLORS[k]} strokeWidth={1.7} />
        ))}
      </Frame>

      <g fontSize={9.3} fill="#000">
        <rect x={2276.5} y={1103} width={61.5} height={41} rx={2.5} fill={BG} fillOpacity={0.85} stroke="#e3c497" strokeWidth={1} />
        {BOT_LEGEND.map((t, i) => (
          <g key={"lb" + i}>
            <line x1={2279.5} x2={2301} y1={1111.5 + i * 11.8} y2={1111.5 + i * 11.8} stroke={BOT_COLORS[i]} strokeWidth={3} />
            <text x={2307.5} y={1111.5 + i * 11.8} dominantBaseline="central">
              {t}
            </text>
          </g>
        ))}
      </g>
    </svg>
  );
}
